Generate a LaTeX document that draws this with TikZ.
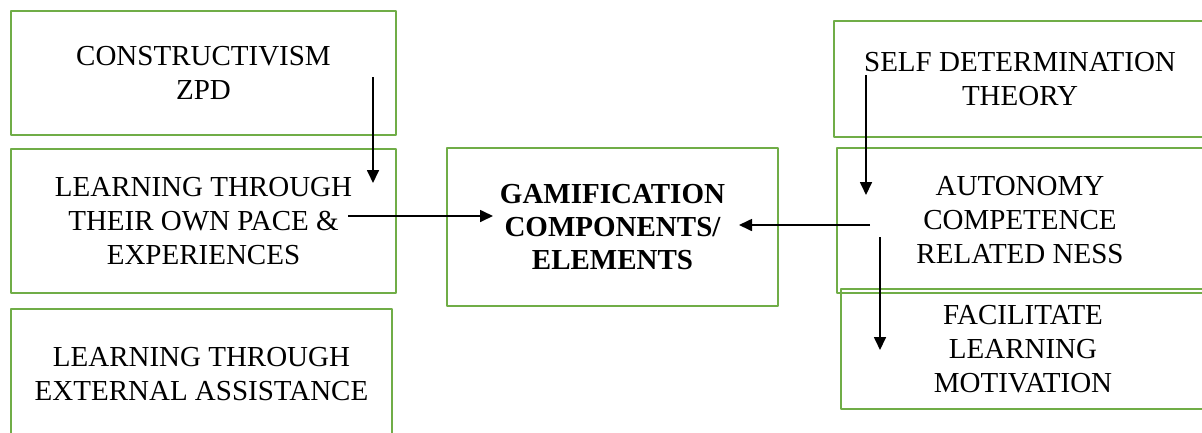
\documentclass[tikz,border=0pt]{standalone}
\usepackage{fontspec}
\setmainfont{Liberation Serif}
\usetikzlibrary{arrows.meta}
\definecolor{boxgreen}{HTML}{70AD47}
\begin{document}
\begin{tikzpicture}[x=1pt, y=-1pt, font=\fontsize{29}{34}\selectfont, line join=round, >={Triangle[length=13pt,width=12pt]},
  box/.style={draw=boxgreen, line width=2.6pt, rectangle, align=center, inner sep=0pt},
  link/.style={->, line width=1.7pt}]
\useasboundingbox (0,0) rectangle (1202,432);
% left column
\node[box, minimum width=385, minimum height=124] (constr) at (203.5,73) {CONSTRUCTIVISM\\ZPD};
\node[box, minimum width=385, minimum height=144] (ownpace) at (203.5,221) {LEARNING THROUGH\\THEIR OWN PACE \&\\EXPERIENCES};
\node[box, minimum width=381, minimum height=130] (external) at (201.5,374) {LEARNING THROUGH\\EXTERNAL ASSISTANCE};
% centre
\node[box, minimum width=331, minimum height=158, font=\fontsize{29}{33}\selectfont\bfseries] (gamif) at (612.5,227) {GAMIFICATION\\COMPONENTS/\\ELEMENTS};
% right column
\node[box, minimum width=372, minimum height=116] (sdt) at (1020,79) {SELF DETERMINATION\\THEORY};
\node[box, minimum width=366, minimum height=145] (acr) at (1020,220.5) {AUTONOMY\\COMPETENCE\\RELATED NESS};
\node[box, minimum width=364, minimum height=120] (facil) at (1023,349) {FACILITATE\\LEARNING\\MOTIVATION};
% arrow ends
\coordinate (constrout) at (373,77);
\coordinate (constrin) at (373,183);
\coordinate (paceout) at (348,216);
\coordinate (gamifleft) at (493,216);
\coordinate (acrout) at (870,225);
\coordinate (gamifright) at (739,225);
\coordinate (sdtout) at (866,75);
\coordinate (acrin) at (866,195);
\coordinate (motivout) at (880,237);
\coordinate (facilin) at (880,350);
\draw[link] (constrout) -- (constrin);
\draw[link] (paceout) -- (gamifleft);
\draw[link] (acrout) -- (gamifright);
\draw[link] (sdtout) -- (acrin);
\draw[link] (motivout) -- (facilin);
\end{tikzpicture}
\end{document}
